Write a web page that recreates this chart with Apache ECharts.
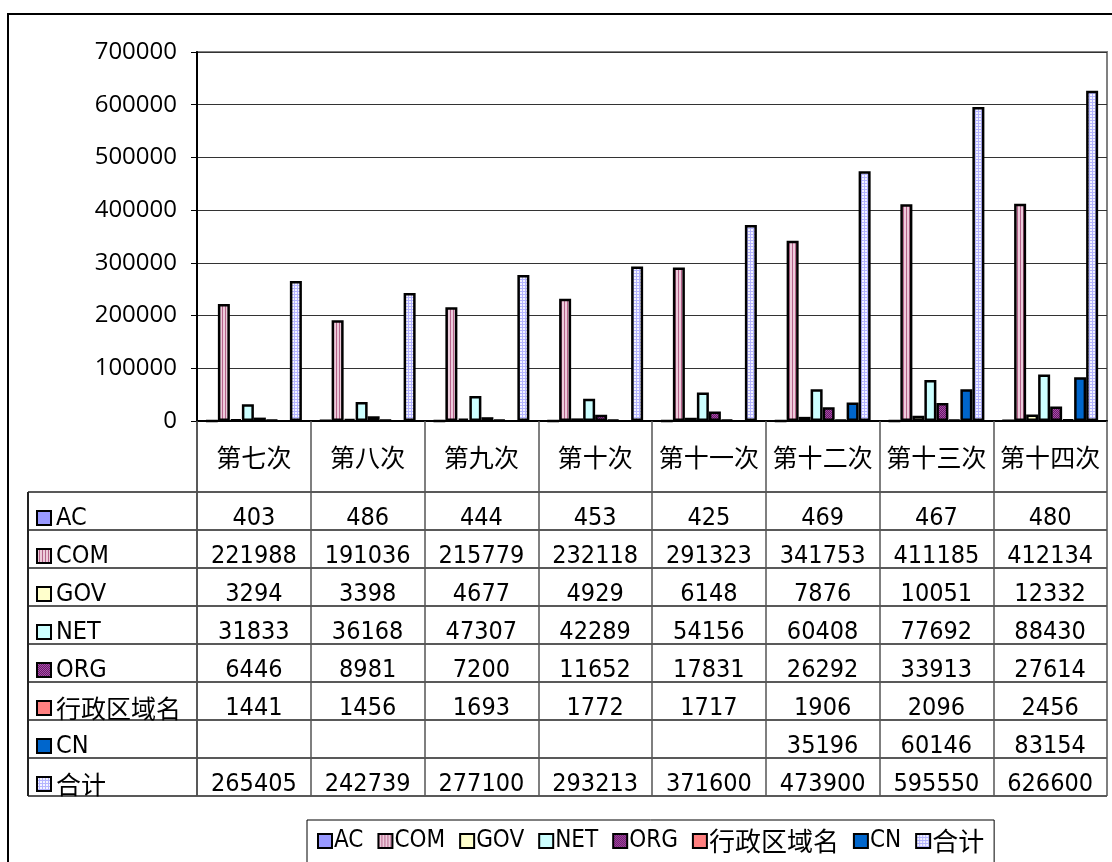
<!DOCTYPE html>
<html>
<head>
<meta charset="utf-8">
<script src="https://cdn.jsdelivr.net/npm/echarts@6/dist/echarts.min.js"></script>
<style>
  html, body { margin: 0; padding: 0; background: #fff; }
  #chart { width: 1112px; height: 862px; }
</style>
</head>
<body>
<div id="chart"></div>
<script>
// data
const categories = ['第七次', '第八次', '第九次', '第十次', '第十一次', '第十二次', '第十三次', '第十四次']
const seriesNames = ['AC', 'COM', 'GOV', 'NET', 'ORG', '行政区域名', 'CN', '合计']
const acValues = [403, 486, 444, 453, 425, 469, 467, 480]
const comValues = [221988, 191036, 215779, 232118, 291323, 341753, 411185, 412134]
const govValues = [3294, 3398, 4677, 4929, 6148, 7876, 10051, 12332]
const netValues = [31833, 36168, 47307, 42289, 54156, 60408, 77692, 88430]
const orgValues = [6446, 8981, 7200, 11652, 17831, 26292, 33913, 27614]
const regionValues = [1441, 1456, 1693, 1772, 1717, 1906, 2096, 2456]
const cnValues = [null, null, null, null, null, 35196, 60146, 83154]
const totalValues = [265405, 242739, 277100, 293213, 371600, 473900, 595550, 626600]
const yMax = 700000
const yStep = 100000

const allValues = [acValues, comValues, govValues, netValues, orgValues, regionValues, cnValues, totalValues]

const latin = '"DejaVu Sans Condensed", "Liberation Sans Narrow", "Noto Sans CJK SC", sans-serif'
const cjk = '"Noto Sans CJK SC", sans-serif'
const hasCjk = s => /[\u4e00-\u9fff]/.test(s)

// canvas fills for the hatched series
const pattern = (w, h, draw) => {
  const c = document.createElement('canvas')
  c.width = w
  c.height = h
  draw(c.getContext('2d'))
  return { image: c, repeat: 'repeat' }
}
const comFill = pattern(3, 1, g => {
  g.fillStyle = '#EDCBDB'; g.fillRect(0, 0, 3, 1)
  g.fillStyle = '#B5648B'; g.fillRect(0, 0, 1, 1)
})
const orgFill = pattern(2, 2, g => {
  g.fillStyle = '#6A146A'; g.fillRect(0, 0, 2, 2)
  g.fillStyle = '#A552A5'; g.fillRect(0, 0, 1, 1); g.fillRect(1, 1, 1, 1)
})
const totalFill = pattern(3, 3, g => {
  g.fillStyle = '#F4F4FF'; g.fillRect(0, 0, 3, 3)
  g.fillStyle = '#B4B4FF'; g.fillRect(0, 0, 3, 1); g.fillRect(0, 0, 1, 3)
})
const fills = ['#9999FF', comFill, '#FFFFCC', '#CCFFFF', orgFill, '#FF8080', '#0066CC', totalFill]

const chart = echarts.init(document.getElementById('chart'))

const gridLeft = 197, gridTop = 52, gridRight = 1107, gridBottom = 421
const tableLeft = 28, headerBottom = 492, rowH = 38

chart.setOption({
  backgroundColor: '#fff',
  animation: false,
  grid: {
    left: gridLeft, top: gridTop,
    width: gridRight - gridLeft, height: gridBottom - gridTop,
    show: true, borderColor: '#808080', borderWidth: 2
  },
  legend: {
    left: 307, top: 820,
    padding: [8, 10, 20, 10],
    borderColor: '#000', borderWidth: 1,
    itemWidth: 14, itemHeight: 14, itemGap: 14,
    icon: 'rect',
    itemStyle: { borderColor: '#000', borderWidth: 2 },
    formatter: name => hasCjk(name) ? `{c|${name}}` : name,
    textStyle: {
      fontFamily: latin, fontSize: 24, color: '#000', padding: [0, 0, 0, -3],
      rich: { c: { fontFamily: cjk, fontSize: 26, color: '#000' } }
    },
    data: seriesNames
  },
  xAxis: {
    type: 'category',
    data: categories,
    axisLine: { lineStyle: { color: '#000', width: 2 } },
    axisTick: { show: true, interval: 0, length: 796 - gridBottom, lineStyle: { color: '#555', width: 1.5 } },
    axisLabel: { interval: 0, margin: 24, fontFamily: cjk, fontSize: 25, color: '#000' }
  },
  yAxis: {
    type: 'value',
    min: 0, max: yMax, interval: yStep,
    axisLine: { show: true, lineStyle: { color: '#000', width: 2 } },
    axisTick: { show: true, length: 6, lineStyle: { color: '#000' } },
    splitLine: { lineStyle: { color: '#333', width: 1 } },
    axisLabel: {
      margin: 20, fontFamily: '"Open Sans", "Noto Sans", sans-serif', fontSize: 24, color: '#000',
      formatter: v => String(v)
    }
  },
  series: seriesNames.map((name, i) => ({
    name,
    type: 'bar',
    data: allValues[i],
    barWidth: 12,
    barGap: '0%',
    itemStyle: { color: fills[i], borderColor: '#000', borderWidth: 2.5 }
  }))
})

// data table under the plot
const graphics = []
const bottom = headerBottom + rowH * seriesNames.length
graphics.push({
  type: 'rect', silent: true, z: -1,
  shape: { x: 8, y: 14, width: 1300, height: 1000 },
  style: { fill: 'none', stroke: '#000', lineWidth: 2 }
})
for (let r = 0; r <= seriesNames.length; r++) {
  const y = headerBottom + r * rowH
  graphics.push({
    type: 'line', silent: true,
    shape: { x1: tableLeft, y1: y, x2: gridRight, y2: y },
    style: { stroke: '#222', lineWidth: 1.5 }
  })
}
graphics.push({
  type: 'line', silent: true,
  shape: { x1: tableLeft, y1: headerBottom, x2: tableLeft, y2: bottom },
  style: { stroke: '#222', lineWidth: 2 }
})
graphics.push({
  type: 'line', silent: true,
  shape: { x1: gridLeft, y1: gridBottom, x2: gridLeft, y2: bottom },
  style: { stroke: '#333', lineWidth: 1.5 }
})
seriesNames.forEach((name, r) => {
  const cy = headerBottom + r * rowH + rowH / 2 + 7
  graphics.push({
    type: 'rect', silent: true,
    shape: { x: 37, y: cy - 7, width: 14, height: 14 },
    style: { fill: fills[r], stroke: '#000', lineWidth: 2 }
  })
  graphics.push({
    type: 'text', silent: true,
    style: {
      x: 56, y: cy, text: name, fontFamily: hasCjk(name) ? cjk : latin, fontSize: 25,
      fill: '#000', align: 'left', verticalAlign: 'middle'
    }
  })
  categories.forEach((c, k) => {
    const v = allValues[r][k]
    if (v == null) return
    const cx = chart.convertToPixel({ xAxisIndex: 0 }, c)
    graphics.push({
      type: 'text', silent: true,
      style: { x: cx, y: cy, text: String(v), fontFamily: latin, fontSize: 25, fill: '#000', align: 'center', verticalAlign: 'middle' }
    })
  })
})
chart.setOption({ graphic: graphics })
</script>
</body>
</html>
